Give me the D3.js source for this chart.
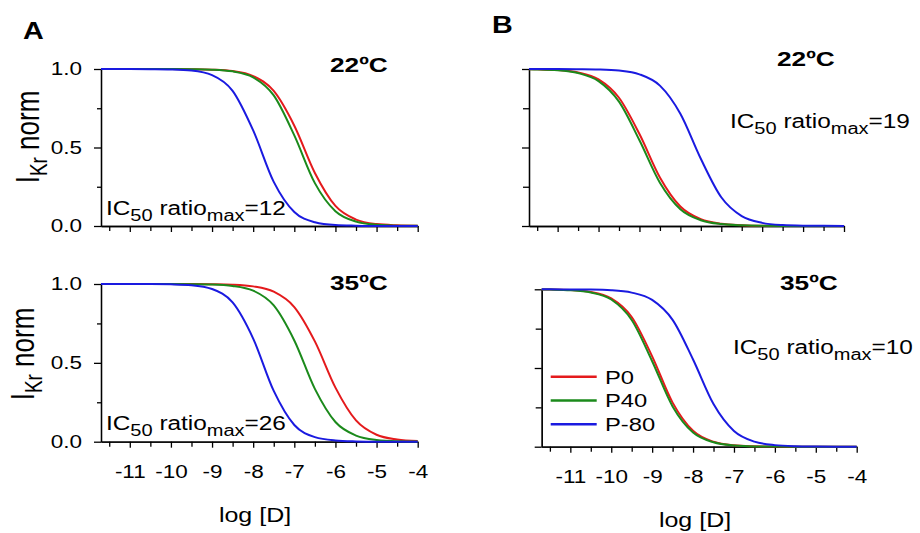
<!DOCTYPE html>
<html>
<head>
<meta charset="utf-8">
<script src="https://cdn.jsdelivr.net/npm/d3@7"></script>
<style>
  body { margin: 0; background: #fff; }
  svg { display: block; }
</style>
</head>
<body>
<script>
// log concentration grid (x values shared by every curve)
const logD = [-11.7, -11.5, -11, -10.5, -10, -9.5, -9, -8.5, -8, -7.5, -7, -6.5, -6, -5.5, -5, -4.5, -4];

// panel A, 22 C
const a22P0   = [1, 1, 1, 1, 1, 0.999, 0.996, 0.987, 0.955, 0.860, 0.639, 0.338, 0.128, 0.041, 0.012, 0.004, 0.001];
const a22P40  = [1, 1, 1, 1, 1, 0.999, 0.996, 0.985, 0.947, 0.832, 0.577, 0.273, 0.094, 0.028, 0.008, 0.002, 0.001];
const a22Pm80 = [1, 1, 1, 0.999, 0.997, 0.990, 0.961, 0.861, 0.609, 0.281, 0.089, 0.024, 0.006, 0.002, 0, 0, 0];
// panel A, 35 C
const a35P0   = [1, 1, 1, 1, 1, 1, 0.999, 0.996, 0.985, 0.951, 0.854, 0.636, 0.343, 0.135, 0.044, 0.014, 0.004];
const a35P40  = [1, 1, 1, 1, 1, 0.999, 0.997, 0.988, 0.958, 0.864, 0.642, 0.335, 0.125, 0.039, 0.011, 0.003, 0.001];
const a35Pm80 = [1, 1, 1, 1, 0.998, 0.992, 0.968, 0.883, 0.654, 0.322, 0.106, 0.029, 0.008, 0.002, 0, 0, 0];
// panel B, 22 C
const b22P0   = [0.999, 0.998, 0.993, 0.978, 0.934, 0.817, 0.586, 0.309, 0.124, 0.043, 0.014, 0.005, 0.001, 0, 0, 0, 0];
const b22P40  = [0.998, 0.997, 0.992, 0.974, 0.923, 0.792, 0.546, 0.276, 0.107, 0.037, 0.012, 0.004, 0.001, 0, 0, 0, 0];
const b22Pm80 = [1, 1, 1, 0.999, 0.997, 0.990, 0.966, 0.894, 0.715, 0.428, 0.183, 0.063, 0.020, 0.006, 0.002, 0.001, 0];
// panel B, 35 C
const b35P0   = [0.999, 0.999, 0.995, 0.983, 0.942, 0.824, 0.574, 0.280, 0.101, 0.031, 0.009, 0.003, 0.001, 0, 0, 0, 0];
const b35P40  = [0.999, 0.998, 0.994, 0.980, 0.935, 0.805, 0.543, 0.256, 0.090, 0.028, 0.008, 0.002, 0.001, 0, 0, 0, 0];
const b35Pm80 = [1, 1, 0.999, 0.998, 0.994, 0.979, 0.933, 0.806, 0.554, 0.271, 0.100, 0.032, 0.010, 0.003, 0.001, 0, 0];

const seriesNames = ["P0", "P40", "P-80"];
const seriesColors = ["#e41a1c", "#1b8a1b", "#1a1ae0"];
const xMajor = [-11, -10, -9, -8, -7, -6, -5, -4];
const xMinor = [-11.5, -10.5, -9.5, -8.5, -7.5, -6.5, -5.5, -4.5];
const yMajor = [0, 0.5, 1];
const yMinor = [0.25, 0.75];

const font = "'Liberation Sans', Arial, sans-serif";
const SX = 1.25; // the reference text is a bit wide

const svg = d3.select("body").append("svg")
    .attr("width", 920)
    .attr("height", 533);

// text helper: stretched text placed at x,y
function label(x, y, size, weight, anchor) {
    return svg.append("text")
        .attr("transform", "translate(" + x + "," + y + ") scale(" + SX + ",1)")
        .attr("font-family", font)
        .attr("font-size", size)
        .attr("font-weight", weight || "normal")
        .attr("text-anchor", anchor || "start")
        .attr("fill", "#000");
}

function ic50Label(x, y, val) {
    let t = label(x, y, 19.5);
    t.append("tspan").text("IC");
    t.append("tspan").attr("font-size", 16).attr("dy", 6).text("50");
    t.append("tspan").attr("dy", -6).text(" ratio");
    t.append("tspan").attr("font-size", 16).attr("dy", 6).text("max");
    t.append("tspan").attr("dy", -6).text("=" + val);
}

function yTitle(x, y) {
    let t = svg.append("text")
        .attr("transform", "translate(" + x + "," + y + ") scale(" + SX + ",1) rotate(-90)")
        .attr("font-family", font)
        .attr("font-size", 26)
        .attr("text-anchor", "middle");
    t.append("tspan").text("I");
    t.append("tspan").attr("font-size", 19).attr("dy", 6).text("Kr");
    t.append("tspan").attr("dy", -6).text(" norm");
}

const panels = [
    { left: 101, right: 417.7, top: 69, bottom: 226, data: [a22P0, a22P40, a22Pm80], yLabels: true, xLabels: false, yMinorSize: 4 },
    { left: 101, right: 417.7, top: 284, bottom: 441.7, data: [a35P0, a35P40, a35Pm80], yLabels: true, xLabels: true, yMinorSize: 4 },
    { left: 529, right: 844, top: 69, bottom: 226, data: [b22P0, b22P40, b22Pm80], yLabels: false, xLabels: false, yMinorSize: 6 },
    { left: 541.7, right: 856.7, top: 289.3, bottom: 446.7, data: [b35P0, b35P40, b35Pm80], yLabels: false, xLabels: true, yMinorSize: 6 }
];

function drawPanel(p) {
    let x = d3.scaleLinear().domain([-11.7, -4]).range([p.left, p.right]);
    let y = d3.scaleLinear().domain([0, 1]).range([p.bottom, p.top]);
    let g = svg.append("g");

    // x axis: minor then major ticks
    g.append("g")
        .attr("transform", "translate(0," + p.bottom + ")")
        .call(d3.axisBottom(x).tickValues(xMinor).tickSize(5).tickSizeOuter(0).tickFormat(""));
    let xa = g.append("g")
        .attr("transform", "translate(0," + p.bottom + ")")
        .call(d3.axisBottom(x).tickValues(xMajor).tickSize(6).tickSizeOuter(0)
            .tickFormat(p.xLabels ? function (d) { return String(d); } : ""));
    xa.selectAll("text")
        .attr("y", 36).attr("dy", 0)
        .attr("transform", "scale(" + SX + ",1)")
        .attr("font-size", 18).attr("font-family", font).attr("fill", "#000");

    // y axis
    g.append("g")
        .attr("transform", "translate(" + p.left + ",0)")
        .call(d3.axisLeft(y).tickValues(yMinor).tickSize(p.yMinorSize).tickSizeOuter(0).tickFormat(""));
    let ya = g.append("g")
        .attr("transform", "translate(" + p.left + ",0)")
        .call(d3.axisLeft(y).tickValues(yMajor).tickSize(7).tickSizeOuter(0)
            .tickFormat(p.yLabels ? d3.format(".1f") : ""));
    ya.selectAll("text")
        .attr("x", -19 / SX)
        .attr("transform", "scale(" + SX + ",1)")
        .attr("font-size", 18).attr("font-family", font).attr("fill", "#000");

    g.selectAll(".domain, .tick line").attr("stroke", "#000").attr("stroke-width", 1.3);

    let line = d3.line()
        .x(function (d, i) { return x(logD[i]); })
        .y(function (d) { return y(d); })
        .curve(d3.curveMonotoneX);

    g.selectAll("path.curve")
        .data(p.data)
        .enter().append("path")
        .attr("class", "curve")
        .attr("d", line)
        .attr("fill", "none")
        .attr("stroke", function (d, i) { return seriesColors[i]; })
        .attr("stroke-width", 2);
}

panels.forEach(drawPanel);

// panel letters
label(23, 39, 23, "bold").text("A");
label(492, 33, 23, "bold").text("B");

// temperatures
label(330, 72, 21, "bold").text("22ºC");
label(330, 290, 21, "bold").text("35ºC");
label(777, 66, 21, "bold").text("22ºC");
label(780, 290, 21, "bold").text("35ºC");

// IC50 ratios
ic50Label(106, 215, 12);
ic50Label(106, 430, 26);
ic50Label(730, 128, 19);
ic50Label(733, 354, 10);

// axis titles
yTitle(39, 137);
yTitle(34, 354);
label(255, 522, 20, "normal", "middle").text("log [D]");
label(695, 527, 20, "normal", "middle").text("log [D]");

// legend
let legend = svg.append("g")
    .selectAll("g")
    .data(seriesNames)
    .enter().append("g")
    .attr("transform", function (d, i) { return "translate(550.7," + (376.7 + i * 23.8) + ")"; });
legend.append("line")
    .attr("x1", 0).attr("x2", 46)
    .attr("stroke", function (d, i) { return seriesColors[i]; })
    .attr("stroke-width", 2.5);
legend.append("text")
    .attr("transform", "translate(54.3,0) scale(" + SX + ",1)")
    .attr("dy", "0.36em")
    .attr("font-family", font)
    .attr("font-size", 19)
    .text(function (d) { return d; });
</script>
</body>
</html>
